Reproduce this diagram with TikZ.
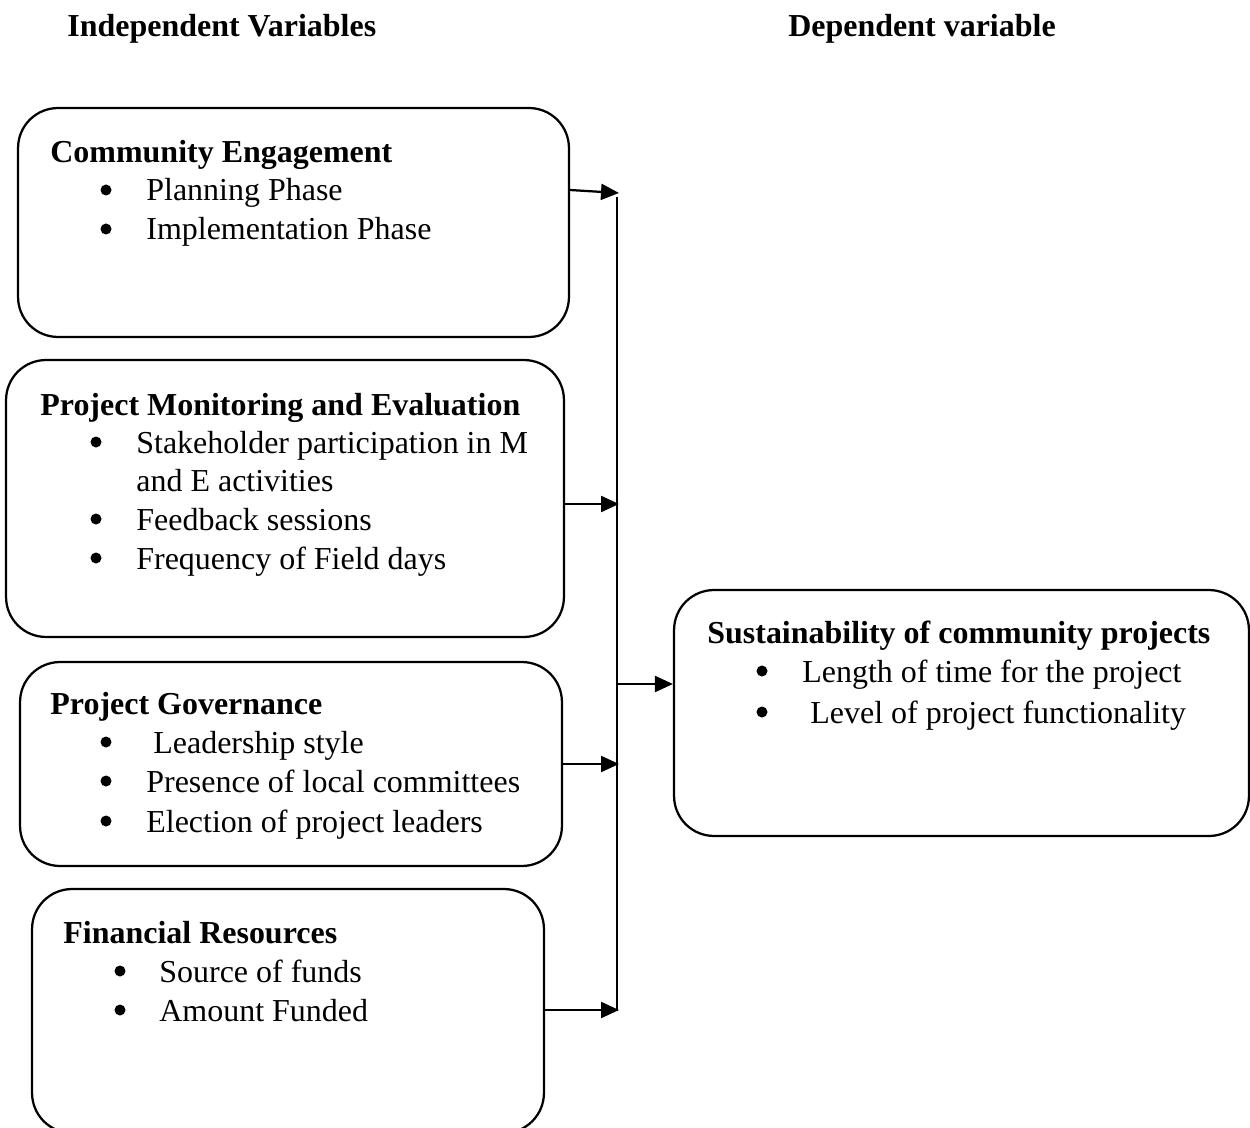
\documentclass[tikz,border=0pt]{standalone}
\usepackage{fontspec}
\setmainfont{Liberation Serif}
\usetikzlibrary{arrows.meta}
\begin{document}
\begin{tikzpicture}[x=0.02cm,y=-0.02cm,
  box/.style={draw, line width=0.045cm, rounded corners=0.8cm, inner sep=0},
  txt/.style={anchor=base west, inner sep=0, font=\fontsize{18.2pt}{22pt}\selectfont},
  hd/.style={anchor=base west, inner sep=0, font=\fontsize{18.2pt}{22pt}\selectfont\bfseries},
  conn/.style={line width=0.045cm},
  arr/.style={conn, -{Triangle[length=0.36cm,width=0.32cm]}},
  bul/.style={fill=black}]
\useasboundingbox (0,0) rectangle (1250,1128);
\clip (0,0) rectangle (1250,1128);

% headers
\node[hd] (hI) at (67,37) {Independent Variables};
\node[hd] (hD) at (788,37) {Dependent variable};

% boxes
\node[box, minimum width=11.02cm, minimum height=4.58cm] (B1) at (293.5,222.5) {};
\node[box, minimum width=11.16cm, minimum height=5.54cm] (B2) at (285,498.5) {};
\node[box, minimum width=10.84cm, minimum height=4.08cm] (B3) at (291,764) {};
\node[box, minimum width=10.24cm, minimum height=4.88cm] (B4) at (288,1011) {};
\node[box, minimum width=11.5cm, minimum height=4.92cm] (B5) at (961.5,713) {};

% box 1
\node[hd] (t1) at (50,163) {Community Engagement};
\fill[bul] (106,190) circle[radius=5.5];
\node[txt] (t1a) at (146,201) {Planning Phase};
\fill[bul] (106,229) circle[radius=5.5];
\node[txt] (t1b) at (146,240) {Implementation Phase};

% box 2
\node[hd] (t2) at (40,415) {Project Monitoring and Evaluation};
\fill[bul] (96,442) circle[radius=5.5];
\node[txt] (t2a) at (136,453) {Stakeholder participation in M};
\node[txt] (t2b) at (136,491) {and E activities};
\fill[bul] (96,519) circle[radius=5.5];
\node[txt] (t2c) at (136,530) {Feedback sessions};
\fill[bul] (96,558) circle[radius=5.5];
\node[txt] (t2d) at (136,569) {Frequency of Field days};

% box 3
\node[hd] (t3) at (50,714) {Project Governance};
\fill[bul] (106,742) circle[radius=5.5];
\node[txt] (t3a) at (153,753) {Leadership style};
\fill[bul] (106,781) circle[radius=5.5];
\node[txt] (t3b) at (146,792) {Presence of local committees};
\fill[bul] (106,821) circle[radius=5.5];
\node[txt] (t3c) at (146,832) {Election of project leaders};

% box 4
\node[hd] (t4) at (63,943) {Financial Resources};
\fill[bul] (120,971) circle[radius=5.5];
\node[txt] (t4a) at (159,982) {Source of funds};
\fill[bul] (120,1010) circle[radius=5.5];
\node[txt] (t4b) at (159,1021) {Amount Funded};

% box 5
\node[hd] (t5) at (707,643) {Sustainability of community projects};
\fill[bul] (762,671) circle[radius=5.5];
\node[txt] (t5a) at (802,682) {Length of time for the project};
\fill[bul] (762,712) circle[radius=5.5];
\node[txt] (t5b) at (810,723) {Level of project functionality};

% connectors
\coordinate (bt) at (617,197);
\coordinate (bb) at (617,1011);
\coordinate (j0) at (569,190);
\coordinate (j1) at (619,193);
\coordinate (j2) at (619,504);
\coordinate (j3) at (619,764);
\coordinate (j4) at (619,1010);
\coordinate (jm) at (617,684);
\draw[conn] (bt) -- (bb);
\draw[arr] (B1.east |- j0) -- (j1);
\draw[arr] (B2.east |- j2) -- (j2);
\draw[arr] (B3.east |- j3) -- (j3);
\draw[arr] (B4.east |- j4) -- (j4);
\draw[arr] (jm) -- (jm -| B5.west);
\end{tikzpicture}
\end{document}
